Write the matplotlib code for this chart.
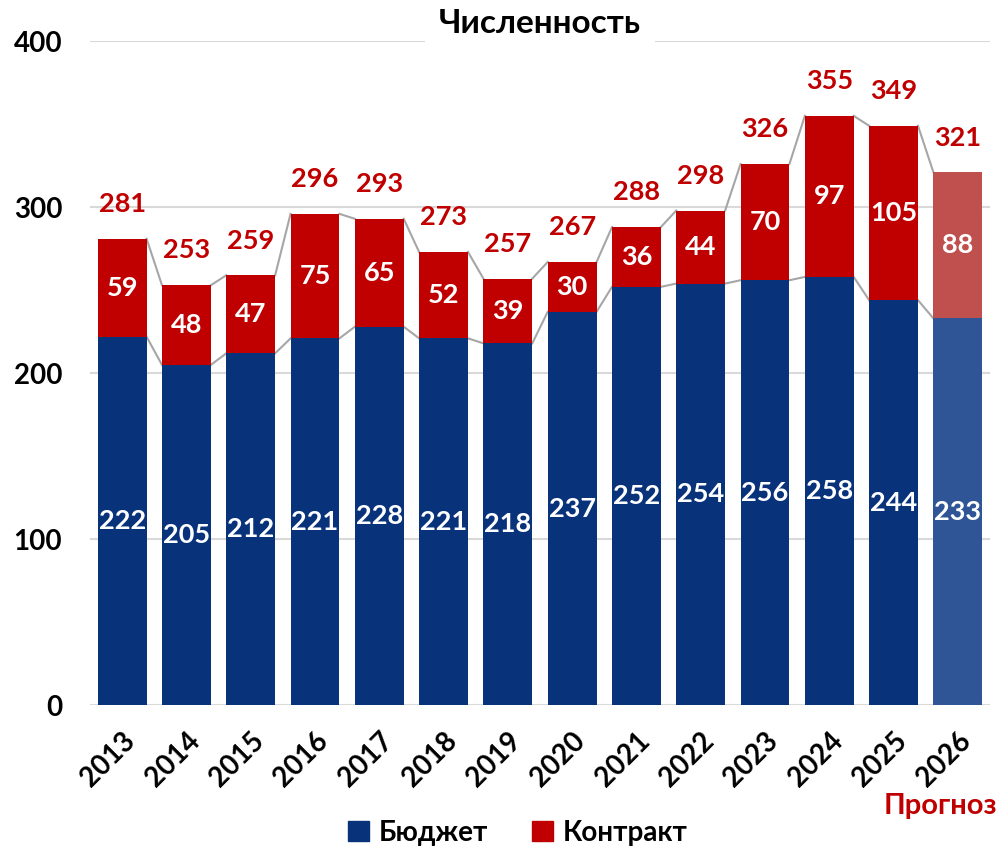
import matplotlib
matplotlib.use('Agg')
from matplotlib import pyplot as plt
from matplotlib import font_manager as fm
from matplotlib.patches import Patch
import numpy as np

# narrow bold font, as close to Calibri as what is installed
fams = []
for f in ['Liberation Sans Narrow', 'Lato', 'DejaVu Sans']:
    try:
        fm.findfont(fm.FontProperties(family=f), fallback_to_default=False)
        fams.append(f)
    except Exception:
        pass
plt.rcParams['font.family'] = fams
plt.rcParams['font.weight'] = 'bold'

years = ['2013', '2014', '2015', '2016', '2017', '2018', '2019', '2020',
         '2021', '2022', '2023', '2024', '2025', '2026']
budget = np.array([222, 205, 212, 221, 228, 221, 218, 237, 252, 254, 256, 258, 244, 233])
contract = np.array([59, 48, 47, 75, 65, 52, 39, 30, 36, 44, 70, 97, 105, 88])
total = budget + contract

blue = '#08327A'
red = '#C00000'
blue_fc = '#2F5597'
red_fc = '#C0504D'

x = np.arange(len(years))
w = 0.76
blue_cols = [blue] * (len(years) - 1) + [blue_fc]
red_cols = [red] * (len(years) - 1) + [red_fc]

fig = plt.figure(figsize=(10, 8.57), dpi=100)
ax = fig.add_axes([0.09, 0.177, 0.90, 0.775])

ax.bar(x, budget, width=w, color=blue_cols, zorder=2)
ax.bar(x, contract, width=w, bottom=budget, color=red_cols, zorder=2)

# series lines between bars
for i in range(len(years) - 1):
    for top in (budget, total):
        ax.plot([x[i] + w / 2, x[i + 1] - w / 2], [top[i], top[i + 1]],
                color='#A6A6A6', lw=1.5, zorder=1)

fs = 19.5
for i in range(len(years)):
    ax.text(x[i], budget[i] / 2, str(budget[i]), ha='center', va='center',
            color='white', fontsize=fs, fontweight='bold', zorder=3)
    ax.text(x[i], budget[i] + contract[i] / 2, str(contract[i]), ha='center', va='center',
            color='white', fontsize=fs, fontweight='bold', zorder=3)
    ax.annotate(str(total[i]), (x[i], total[i]), xytext=(0, 25), textcoords='offset points',
                ha='center', va='center', color=red, fontsize=fs, fontweight='bold')

ax.set_xlim(-0.5, len(years) - 0.5)
ax.set_ylim(0, 400)
ax.set_yticks([0, 100, 200, 300, 400])
ax.grid(axis='y', color='#D9D9D9', lw=1.5, zorder=0)
ax.set_axisbelow(True)
for s in ax.spines.values():
    s.set_visible(False)
ax.tick_params(length=0)
ax.tick_params(axis='y', labelsize=20, pad=20)
ax.set_xticks(x)
ax.set_xticklabels(years, rotation=45, ha='right', rotation_mode='anchor', fontsize=20)
ax.tick_params(axis='x', pad=16)
for lab in ax.get_xticklabels() + ax.get_yticklabels():
    lab.set_fontweight('bold')

ax.annotate('Численность', (0.5, 1.0), xycoords='axes fraction', xytext=(0, 13),
            textcoords='offset points', ha='center', va='center',
            fontsize=24, fontweight='bold', color='black',
            bbox=dict(facecolor='white', edgecolor='none', pad=10), zorder=5)

fig.text(0.997, 0.06, 'Прогноз', ha='right', va='center', color=red,
         fontsize=21, fontweight='bold')

handles = [Patch(color=blue), Patch(color=red)]
fig.legend(handles, ['Бюджет', 'Контракт'], loc='center', bbox_to_anchor=(0.518, 0.028),
           ncol=2, frameon=False, fontsize=20, handlelength=0.75, handleheight=0.75,
           columnspacing=1.6, handletextpad=0.35)

fig.savefig('out.png', dpi=100)
